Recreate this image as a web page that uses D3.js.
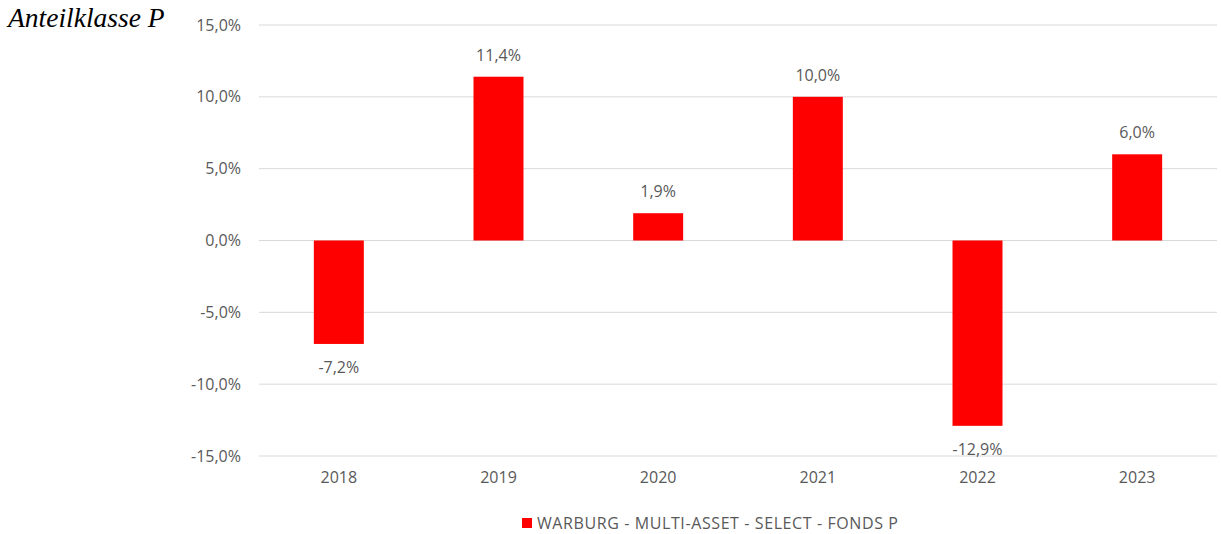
<!DOCTYPE html>
<html>
<head>
<meta charset="utf-8">
<script src="https://cdn.jsdelivr.net/npm/d3@7"></script>
<style>
  body { margin: 0; background: #fff; }
  svg { display: block; }
</style>
</head>
<body>
<svg width="1221" height="534"></svg>
<script>
const years = ['2018', '2019', '2020', '2021', '2022', '2023'];
const returns = [-7.2, 11.4, 1.9, 10.0, -12.9, 6.0];
const yTicks = [-15, -10, -5, 0, 5, 10, 15];
const seriesName = 'WARBURG - MULTI-ASSET - SELECT - FONDS P';
const title = 'Anteilklasse P';

const data = years.map((y, i) => ({year: y, value: returns[i]}));
// German format with plain hyphen for negatives
const fmt = v => d3.format('.1f')(v).replace('.', ',').replace('\u2212', '-') + '%';
const font = 'Open Sans, sans-serif';
const fontSize = '16px';
const grey = '#595959';

const svg = d3.select('svg');

const xScale = d3.scaleBand()
    .domain(years)
    .range([259, 1217])
    .paddingInner(0.687)
    .paddingOuter(0.3435);
const yScale = d3.scaleLinear()
    .domain([-15, 15])
    .range([456, 25]);

// gridlines
svg.append('g')
    .selectAll('line')
    .data(yTicks)
    .enter()
    .append('line')
    .attr('x1', 259)
    .attr('x2', 1217)
    .attr('y1', d => yScale(d))
    .attr('y2', d => yScale(d))
    .style('stroke', '#d9d9d9')
    .style('stroke-width', '1px');

// y axis labels
const yAxis = d3.axisLeft(yScale)
    .tickValues(yTicks)
    .tickSize(0)
    .tickPadding(18)
    .tickFormat(fmt);
svg.append('g')
    .attr('transform', 'translate(259, 0)')
    .call(yAxis)
    .call(g => g.select('.domain').remove())
    .selectAll('text')
    .style('font-family', font)
    .style('font-size', fontSize)
    .style('fill', grey);

// x axis labels
const xAxis = d3.axisBottom(xScale)
    .tickSize(0)
    .tickPadding(16);
svg.append('g')
    .attr('transform', 'translate(0, 456)')
    .call(xAxis)
    .call(g => g.select('.domain').remove())
    .selectAll('text')
    .style('font-family', font)
    .style('font-size', fontSize)
    .style('fill', grey);

// bars
svg.append('g')
    .selectAll('rect')
    .data(data)
    .enter()
    .append('rect')
    .attr('x', d => xScale(d.year))
    .attr('width', xScale.bandwidth())
    .attr('y', d => yScale(Math.max(0, d.value)))
    .attr('height', d => Math.abs(yScale(d.value) - yScale(0)))
    .style('fill', '#ff0000');

// value labels
svg.append('g')
    .selectAll('text')
    .data(data)
    .enter()
    .append('text')
    .attr('x', d => xScale(d.year) + xScale.bandwidth() / 2)
    .attr('y', d => d.value >= 0 ? yScale(d.value) - 16 : yScale(d.value) + 29)
    .attr('text-anchor', 'middle')
    .style('font-family', font)
    .style('font-size', fontSize)
    .style('fill', grey)
    .text(d => fmt(d.value));

// legend
const legend = svg.append('g').attr('transform', 'translate(522, 523)');
legend.append('rect')
    .attr('x', 0)
    .attr('y', -5)
    .attr('width', 10)
    .attr('height', 10)
    .style('fill', '#ff0000');
legend.append('text')
    .attr('x', 15)
    .attr('y', 0)
    .attr('dy', '0.35em')
    .style('font-family', font)
    .style('font-size', fontSize)
    .style('letter-spacing', '0.6px')
    .style('fill', grey)
    .text(seriesName);

// title
svg.append('text')
    .attr('x', 8)
    .attr('y', 27)
    .style('font-family', 'Liberation Serif, serif')
    .style('font-style', 'italic')
    .style('font-size', '27.5px')
    .style('fill', '#000')
    .text(title);
</script>
</body>
</html>
